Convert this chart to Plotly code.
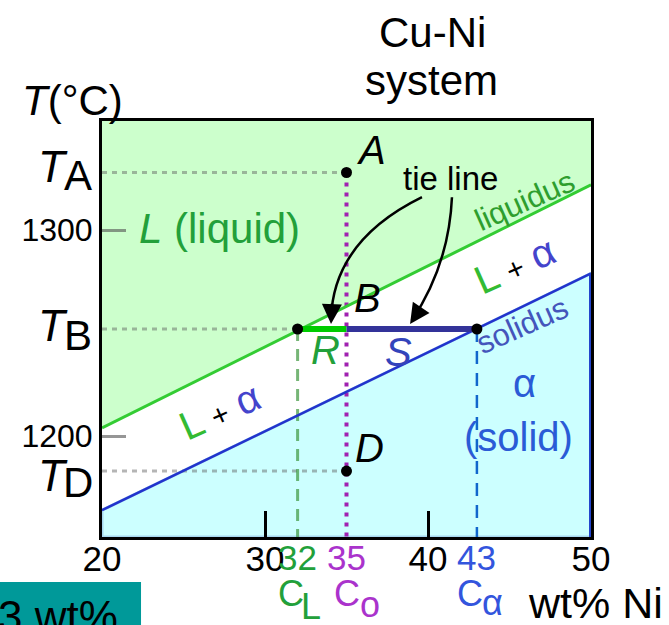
import plotly.graph_objects as go

# ---- data -------------------------------------------------------------
# axes: composition (wt% Ni) and temperature (°C)
x_range = [20, 50]
t_range = [1151, 1353]
x_tick_vals = [20, 30, 40, 50]
x_tick_text = ["20", "30", "40", "50"]
t_tick_vals = [1200, 1300]
t_tick_text = ["1200", "1300"]

# phase boundaries, given at the two ends of the composition window
boundary_x = [20, 50]
liquidus_t = [1204, 1322]
solidus_t = [1164, 1279]

# alloy Co and the three temperatures examined
c_o = 35
t_a = 1328
t_b = 1252
t_d = 1183

# tie line at T_B: liquid and solid compositions
c_l = 32
c_alpha = 43

# ---- colours -----------------------------------------------------------
LIQ_FILL = "#CCFFCC"
SOL_FILL = "#CCFFFF"
GREEN = "#33CC33"
GREEN_TXT = "#22A03A"
BLUE = "#2233CC"
BLUE_TXT = "#2A5BD6"
MAGENTA = "#A020B0"
NAVY = "#333399"
FONT = "Arial"

fig = go.Figure()

# liquid region (above liquidus)
fig.add_trace(go.Scatter(
    x=[boundary_x[0], boundary_x[1], boundary_x[1], boundary_x[0]],
    y=[liquidus_t[0], liquidus_t[1], t_range[1], t_range[1]],
    fill="toself", fillcolor=LIQ_FILL, mode="none", hoverinfo="skip"))
# alpha region (below solidus)
fig.add_trace(go.Scatter(
    x=[boundary_x[0], boundary_x[1], boundary_x[1], boundary_x[0], boundary_x[0]],
    y=[solidus_t[0], solidus_t[1], t_range[0], t_range[0], solidus_t[0]],
    fill="toself", fillcolor=SOL_FILL, mode="lines",
    line=dict(color="#A8D8F0", width=3), hoverinfo="skip"))

# grey guides from the temperature axis
for tx, t in [(c_o, t_a), (c_l, t_b), (c_o, t_d)]:
    fig.add_trace(go.Scatter(x=[x_range[0], tx], y=[t, t], mode="lines",
                             line=dict(color="rgba(90,90,90,0.45)", width=3, dash="5px,5px"),
                             hoverinfo="skip"))

# composition drop lines
fig.add_trace(go.Scatter(x=[c_l, c_l], y=[t_b, t_range[0]], mode="lines",
                         line=dict(color="rgba(60,150,60,0.7)", width=3, dash="12px,8px"),
                         hoverinfo="skip"))
fig.add_trace(go.Scatter(x=[c_alpha, c_alpha], y=[t_b, t_range[0]], mode="lines",
                         line=dict(color="#1166CC", width=2.5, dash="13px,9px"),
                         hoverinfo="skip"))
fig.add_trace(go.Scatter(x=[c_o, c_o], y=[t_a, t_range[0]], mode="lines",
                         line=dict(color=MAGENTA, width=4, dash="4px,6px"),
                         hoverinfo="skip"))

# phase boundaries
fig.add_trace(go.Scatter(x=boundary_x, y=liquidus_t, mode="lines",
                         line=dict(color=GREEN, width=3), hoverinfo="skip"))
fig.add_trace(go.Scatter(x=boundary_x, y=solidus_t, mode="lines",
                         line=dict(color=BLUE, width=2.5), hoverinfo="skip"))
fig.add_trace(go.Scatter(x=[boundary_x[1], boundary_x[1]], y=[solidus_t[1], t_range[0]],
                         mode="lines", line=dict(color="#2244CC", width=4), hoverinfo="skip"))

# tie line: R (liquid side) and S (solid side)
fig.add_trace(go.Scatter(x=[c_l, c_o], y=[t_b, t_b], mode="lines",
                         line=dict(color="#00CC00", width=6), hoverinfo="skip"))
fig.add_trace(go.Scatter(x=[c_o, c_alpha], y=[t_b, t_b], mode="lines",
                         line=dict(color=NAVY, width=6), hoverinfo="skip"))

# state points
fig.add_trace(go.Scatter(x=[c_o, c_l, c_alpha, c_o], y=[t_a, t_b, t_b, t_d],
                         mode="markers", marker=dict(color="black", size=11),
                         hoverinfo="skip"))

# curved arrows from the "tie line" label
fig.add_shape(type="path", xref="x", yref="y",
              path="M 39.63,1316 Q 34.2,1294.9 34.05,1257",
              line=dict(color="black", width=2.5))
fig.add_shape(type="path", xref="x", yref="y",
              path="M 41.47,1316 Q 41.29,1283.3 39.0,1256",
              line=dict(color="black", width=2.5))

ann = []


def txt(x, y, s, size, color="black", xref="x", yref="y", **kw):
    kw.setdefault("xanchor", "center")
    kw.setdefault("yanchor", "middle")
    ann.append(dict(x=x, y=y, xref=xref, yref=yref, text=s, showarrow=False,
                    font=dict(family=FONT, size=size, color=color), **kw))


# arrowheads
ann.append(dict(x=34.05, y=1254.4, xref="x", yref="y", ax=1, ay=-22, text="",
                showarrow=True, arrowhead=2, arrowsize=1.6, arrowwidth=2.5,
                arrowcolor="black", standoff=0))
ann.append(dict(x=38.9, y=1254.4, xref="x", yref="y", ax=12, ay=-18, text="",
                showarrow=True, arrowhead=2, arrowsize=1.6, arrowwidth=2.5,
                arrowcolor="black", standoff=0))

# point labels
txt(36.56, t_a + 11, "<i>A</i>", 40)
txt(36.3, t_b + 15, "<i>B</i>", 40)
txt(36.44, t_d + 11, "<i>D</i>", 40)
txt(33.7, t_b - 10, "<i>R</i>", 40, GREEN_TXT)
txt(38.2, t_b - 11, "<i>S</i>", 40, "#3344BB")
txt(41.35, 1325, "tie line", 33)

# region labels
txt(27.18, 1301, "<i>L</i> (liquid)", 42, GREEN_TXT)
txt(45.95, 1314.6, "liquidus", 31, "#2E9E2E", textangle=-24)
txt(45.77, 1253.9, "solidus", 31, "#4455BB", textangle=-24)
lpa = ("<span style='color:#33BB33'>L</span> "
       "<span style='color:#000000;font-size:30px'>+</span> "
       "<span style='color:#4444CC'>α</span>")
txt(45.34, 1283, lpa, 40, textangle=-24)
txt(27.24, 1212, lpa, 40, textangle=-24)
txt(45.95, 1225.7, "α", 40, BLUE_TXT)
txt(45.58, 1199.5, "(solid)", 40, BLUE_TXT)

# temperature labels on the axis
for t, sub, dt, ds in [(t_a, "A", 6, -3), (t_b, "B", 4, -6), (t_d, "D", -4, -11)]:
    txt(-0.1002, t, "<i>T</i>", 44, xref="paper", yshift=dt)
    txt(-0.0491, t, sub, 42, xref="paper", yshift=ds)


def px_to_paper_y(py):
    return (537 - py) / 416


# coloured composition labels
txt(c_l, px_to_paper_y(557), "32", 35, GREEN_TXT, yref="paper")
txt(c_o, px_to_paper_y(557), "35", 35, "#AA33CC", yref="paper")
txt(c_alpha, px_to_paper_y(557), "43", 35, "#3355DD", yref="paper")
txt(31.6, px_to_paper_y(593), "C", 36, GREEN_TXT, yref="paper")
txt(32.85, px_to_paper_y(606), "L", 36, GREEN_TXT, yref="paper")
txt(35.05, px_to_paper_y(593), "C", 36, "#AA33CC", yref="paper")
txt(36.45, px_to_paper_y(604), "o", 36, "#AA33CC", yref="paper")
txt(42.6, px_to_paper_y(593), "C", 36, "#3355DD", yref="paper")
txt(43.95, px_to_paper_y(602), "α", 36, "#3355DD", yref="paper")
txt(1.0102, px_to_paper_y(603), "wt% Ni", 43, xref="paper", yref="paper")

# title and axis label
txt(0.675, px_to_paper_y(32), "Cu-Ni", 42, xref="paper", yref="paper")
txt(0.673, px_to_paper_y(80), "system", 42, xref="paper", yref="paper")
txt(-0.061, px_to_paper_y(100), "<i>T</i>(°C)", 42, xref="paper", yref="paper")

# neighbouring box at the lower left
fig.add_shape(type="rect", xref="paper", yref="paper",
              x0=-0.3, x1=0.0798, y0=-0.3, y1=px_to_paper_y(582),
              fillcolor="#009999", line=dict(width=0), layer="above")
txt(-0.2168, px_to_paper_y(590), "3 wt%", 44, xref="paper", yref="paper",
    xanchor="left", yanchor="top")

fig.update_layout(
    width=669, height=625,
    margin=dict(l=102, r=78, t=121, b=88),
    paper_bgcolor="white", plot_bgcolor="white",
    showlegend=False, hovermode=False,
    annotations=ann,
    xaxis=dict(range=x_range, tickvals=x_tick_vals, ticktext=x_tick_text,
               ticks="inside", ticklen=26, tickwidth=3, tickcolor="black",
               ticklabelstandoff=-11,
               showline=True, linecolor="black", linewidth=3, mirror=True,
               showgrid=False, zeroline=False,
               tickfont=dict(family=FONT, size=35, color="black")),
    yaxis=dict(range=t_range, tickvals=t_tick_vals, ticktext=t_tick_text,
               ticks="inside", ticklen=24, tickwidth=3, tickcolor="rgba(80,80,80,0.6)",
               showline=True, linecolor="black", linewidth=3, mirror=True,
               showgrid=False, zeroline=False,
               tickfont=dict(family=FONT, size=32, color="black")),
)

fig.write_html("out.html")
